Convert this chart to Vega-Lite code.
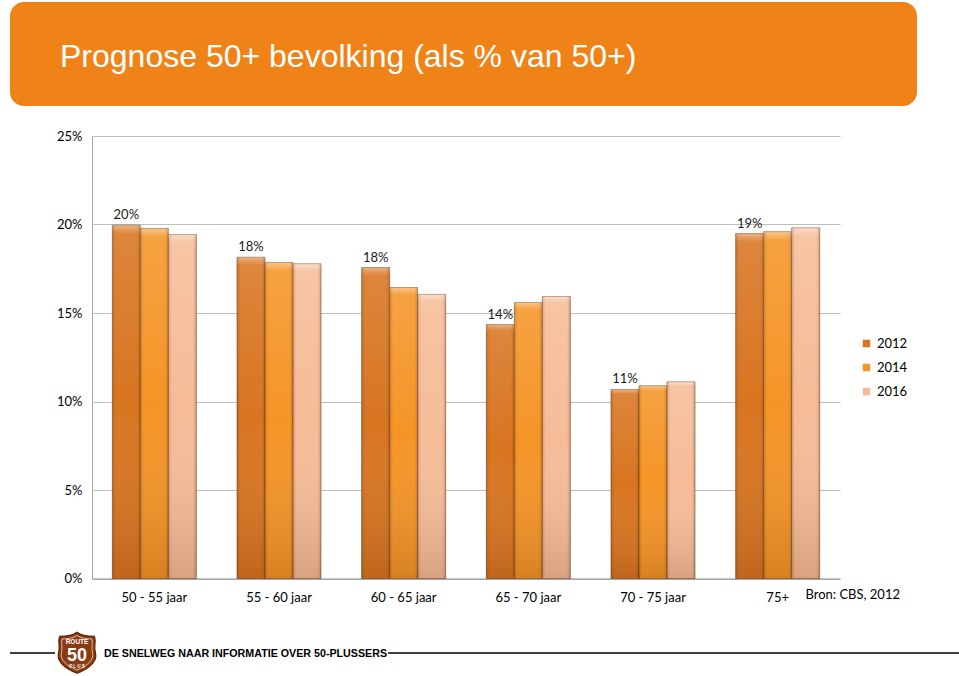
{
  "$schema": "https://vega.github.io/schema/vega-lite/v6.json",
  "padding": {"left": 10, "top": 2, "right": 0, "bottom": 0},
  "background": "white",
  "spacing": 24,
  "config": {
    "view": {"stroke": null},
    "font": "Lato",
    "text": {"font": "Lato"}
  },
  "vconcat": [
    {
      "width": 907,
      "height": 104,
      "view": {"fill": "#EF8318", "stroke": null, "cornerRadius": 14},
      "data": {"values": [{"titel": "Prognose 50+ bevolking (als % van 50+)"}]},
      "mark": {"type": "text", "align": "left", "baseline": "alphabetic", "dx": -403.5, "dy": 13, "font": "Liberation Sans", "fontSize": 32, "color": "#FFFFFF"},
      "encoding": {"text": {"field": "titel", "type": "nominal"}}
    },
    {
      "spacing": 0,
      "data": {"values": [
        {"leeftijd": "50 - 55 jaar", "jaar": "2012", "aandeel": 0.1996},
        {"leeftijd": "50 - 55 jaar", "jaar": "2014", "aandeel": 0.1977},
        {"leeftijd": "50 - 55 jaar", "jaar": "2016", "aandeel": 0.1943},
        {"leeftijd": "55 - 60 jaar", "jaar": "2012", "aandeel": 0.1815},
        {"leeftijd": "55 - 60 jaar", "jaar": "2014", "aandeel": 0.1785},
        {"leeftijd": "55 - 60 jaar", "jaar": "2016", "aandeel": 0.1778},
        {"leeftijd": "60 - 65 jaar", "jaar": "2012", "aandeel": 0.1757},
        {"leeftijd": "60 - 65 jaar", "jaar": "2014", "aandeel": 0.1644},
        {"leeftijd": "60 - 65 jaar", "jaar": "2016", "aandeel": 0.1605},
        {"leeftijd": "65 - 70 jaar", "jaar": "2012", "aandeel": 0.1435},
        {"leeftijd": "65 - 70 jaar", "jaar": "2014", "aandeel": 0.1559},
        {"leeftijd": "65 - 70 jaar", "jaar": "2016", "aandeel": 0.1593},
        {"leeftijd": "70 - 75 jaar", "jaar": "2012", "aandeel": 0.1068},
        {"leeftijd": "70 - 75 jaar", "jaar": "2014", "aandeel": 0.1089},
        {"leeftijd": "70 - 75 jaar", "jaar": "2016", "aandeel": 0.1111},
        {"leeftijd": "75+", "jaar": "2012", "aandeel": 0.1949},
        {"leeftijd": "75+", "jaar": "2014", "aandeel": 0.1959},
        {"leeftijd": "75+", "jaar": "2016", "aandeel": 0.1981}
      ]},
      "hconcat": [
        {
          "width": 82,
          "height": 442.5,
          "mark": {"type": "tick", "opacity": 0},
          "encoding": {
            "y": {
              "field": "aandeel", "type": "quantitative",
              "scale": {"domain": [0, 0.25]},
              "axis": {"title": null, "orient": "left", "offset": -82, "values": [0, 0.05, 0.1, 0.15, 0.2, 0.25], "format": ".0%", "grid": false, "ticks": false, "domain": true, "domainColor": "#A6A6A6", "labelPadding": 10, "labelFont": "Lato", "labelFontSize": 13, "labelColor": "#000000", "minExtent": 0}
            }
          }
        },
        {
          "width": 748,
          "height": 442.5,
          "title": {"text": "Bron: CBS, 2012", "orient": "bottom", "anchor": "end", "frame": "group", "offset": -16, "dx": 60, "font": "Lato", "fontSize": 13, "fontWeight": "normal", "color": "#000000"},
          "encoding": {
            "x": {
              "field": "leeftijd", "type": "nominal", "sort": null,
              "scale": {"paddingInner": 0.326, "paddingOuter": 0.163},
              "axis": {"title": null, "ticks": false, "labelAngle": 0, "labelPadding": 13, "labelFont": "Lato", "labelFontSize": 13, "labelColor": "#000000", "domainColor": "#8C8C8C", "domainWidth": 1, "grid": false}
            },
            "xOffset": {"field": "jaar", "type": "nominal", "scale": {"paddingInner": 0, "paddingOuter": 0}},
            "y": {
              "field": "aandeel", "type": "quantitative",
              "scale": {"domain": [0, 0.25]},
              "axis": {"title": null, "values": [0, 0.05, 0.1, 0.15, 0.2, 0.25], "labels": false, "ticks": false, "domain": false, "grid": true, "gridColor": "#BEBEBE", "minExtent": 0}
            }
          },
          "layer": [
            {
              "mark": {"type": "bar", "stroke": "#6E3E16", "strokeOpacity": 0.55, "strokeWidth": 1},
              "encoding": {
                "color": {
                  "field": "jaar", "type": "nominal",
                  "scale": {"domain": ["2012", "2014", "2016"], "range": ["#D87521", "#F59527", "#F6BC98"]},
                  "legend": {"title": null, "orient": "none", "legendX": 850, "legendY": 335, "padding": 0, "symbolType": "square", "symbolSize": 56, "symbolStrokeWidth": 0, "labelFont": "Lato", "labelFontSize": 13, "labelColor": "#000000", "labelOffset": 4, "rowPadding": 10}
                }
              }
            },
            {
              "mark": {"type": "bar", "strokeWidth": 0, "fill": {"gradient": "linear", "x1": 0, "y1": 0, "x2": 0, "y2": 1, "stops": [
                {"offset": 0, "color": "rgba(255,255,255,0.45)"},
                {"offset": 0.025, "color": "rgba(255,255,255,0.12)"},
                {"offset": 0.5, "color": "rgba(255,255,255,0)"},
                {"offset": 1, "color": "rgba(60,20,0,0.16)"}
              ]}}
            },
            {
              "mark": {"type": "bar", "strokeWidth": 0, "fill": {"gradient": "linear", "x1": 0, "y1": 0, "x2": 1, "y2": 0, "stops": [
                {"offset": 0, "color": "rgba(80,30,0,0.18)"},
                {"offset": 0.12, "color": "rgba(80,30,0,0)"},
                {"offset": 0.88, "color": "rgba(80,30,0,0)"},
                {"offset": 1, "color": "rgba(80,30,0,0.2)"}
              ]}}
            },
            {
              "transform": [{"filter": "datum.jaar == '2012'"}],
              "mark": {"type": "text", "baseline": "middle", "dy": -10, "font": "Lato", "fontSize": 13, "color": "#1A1A1A"},
              "encoding": {"text": {"field": "aandeel", "type": "quantitative", "format": ".0%"}}
            }
          ]
        }
      ]
    },
    {
      "spacing": 0,
      "center": true,
      "hconcat": [
        {
          "width": 45, "height": 1.5,
          "view": {"fill": "#000000", "stroke": null},
          "data": {"values": [{}]},
          "mark": {"type": "point", "opacity": 0}
        },
        {
          "width": 38, "height": 41,
          "layer": [
            {
              "data": {"values": [{"logo": "schild"}]},
              "mark": {"type": "point", "shape": "M -0.85 -0.8 C -0.5 -0.8 -0.2 -0.85 0 -1 C 0.2 -0.85 0.5 -0.8 0.85 -0.8 C 0.95 -0.55 0.8 -0.3 0.9 0 C 1 0.4 0.6 0.75 0 1 C -0.6 0.75 -1 0.4 -0.9 0 C -0.8 -0.3 -0.95 -0.55 -0.85 -0.8 Z", "size": 1681, "filled": true, "fill": "#8A3B12", "stroke": "#5A2407", "strokeWidth": 1.2, "opacity": 1}
            },
            {
              "data": {"values": [{"logo": "rand"}]},
              "mark": {"type": "point", "shape": "M -0.85 -0.8 C -0.5 -0.8 -0.2 -0.85 0 -1 C 0.2 -0.85 0.5 -0.8 0.85 -0.8 C 0.95 -0.55 0.8 -0.3 0.9 0 C 1 0.4 0.6 0.75 0 1 C -0.6 0.75 -1 0.4 -0.9 0 C -0.8 -0.3 -0.95 -0.55 -0.85 -0.8 Z", "size": 1200, "filled": false, "stroke": "#F3D9C4", "strokeWidth": 0.8, "opacity": 1}
            },
            {
              "data": {"values": [{"t": "ROUTE"}]},
              "mark": {"type": "text", "font": "Liberation Sans", "fontWeight": "bold", "fontSize": 6.5, "color": "#FFFFFF", "baseline": "middle", "dy": -11},
              "encoding": {"text": {"field": "t", "type": "nominal"}}
            },
            {
              "data": {"values": [{"t": "50"}]},
              "mark": {"type": "text", "font": "Liberation Sans", "fontWeight": "bold", "fontSize": 18, "color": "#FFFFFF", "baseline": "middle", "dy": 3},
              "encoding": {"text": {"field": "t", "type": "nominal"}}
            },
            {
              "data": {"values": [{"t": "P L U S"}]},
              "mark": {"type": "text", "font": "Liberation Sans", "fontWeight": "bold", "fontSize": 4.5, "color": "#FFFFFF", "baseline": "middle", "dy": 14},
              "encoding": {"text": {"field": "t", "type": "nominal"}}
            }
          ]
        },
        {
          "width": 288, "height": 14,
          "data": {"values": [{"tekst": "DE SNELWEG NAAR INFORMATIE OVER 50-PLUSSERS"}]},
          "mark": {"type": "text", "align": "left", "dx": -139, "font": "Liberation Sans", "fontWeight": "bold", "fontSize": 10.7, "color": "#000000", "baseline": "middle"},
          "encoding": {"text": {"field": "tekst", "type": "nominal"}}
        },
        {
          "width": 578, "height": 1.5,
          "view": {"fill": "#000000", "stroke": null},
          "data": {"values": [{}]},
          "mark": {"type": "point", "opacity": 0}
        }
      ]
    }
  ]
}
